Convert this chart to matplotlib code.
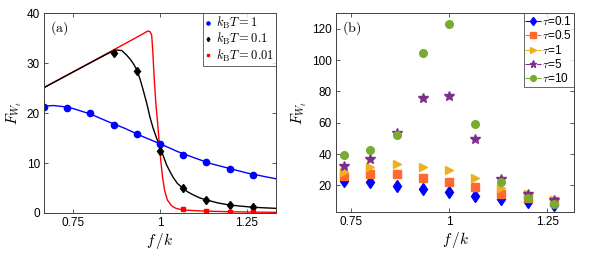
import numpy as np
import matplotlib
matplotlib.use('Agg')
import matplotlib.pyplot as plt
from matplotlib.lines import Line2D

plt.rcParams['font.family'] = ['Liberation Sans', 'DejaVu Sans']
plt.rcParams['mathtext.fontset'] = 'cm'

# ---- panel (a): simulated points and theory curves ----
fk_pts = [10/15, 11/15, 12/15, 13/15, 14/15, 1.0, 16/15, 17/15, 18/15, 19/15]
blue_pts = [21.2, 21.1, 20.0, 17.6, 15.9, 13.8, 11.7, 10.2, 8.9, 7.7]
fk_black = [13/15, 14/15, 1.0, 16/15, 17/15, 18/15, 19/15]
black_pts = [32.0, 28.5, 12.5, 5.0, 2.5, 1.6, 1.2]
fk_red = [16/15, 17/15, 18/15, 19/15]
red_pts = [0.7, 0.4, 0.25, 0.2]

blue_f = [0.667, 0.693, 0.72, 0.75, 0.8, 0.85, 0.9, 0.95, 1.0, 1.05, 1.1,
          1.15, 1.2, 1.25, 1.3, 1.333]
blue_v = [21.35, 21.5, 21.3, 20.9, 19.8, 18.3, 16.9, 15.3, 13.85, 12.3, 11.0,
          9.8, 8.9, 8.0, 7.3, 6.85]

black_f = [0.667, 0.75, 0.82, 0.85, 0.865, 0.876, 0.89, 0.904, 0.915, 0.923,
           0.933, 0.943, 0.952, 0.962, 0.971, 0.98, 0.99, 1.0, 1.01, 1.019,
           1.03, 1.038, 1.05, 1.067, 1.08, 1.096, 1.115, 1.134, 1.167, 1.2,
           1.235, 1.268, 1.3, 1.333]
black_v = [25.1, 28.2, 30.8, 31.9, 32.4, 32.6, 32.5, 31.6, 30.7, 29.9,
           28.7, 26.7, 24.5, 21.9, 19.2, 17.0, 15.0, 13.3, 11.3, 9.6,
           8.1, 7.1, 5.9, 4.9, 4.2, 3.6, 3.0, 2.6, 2.0, 1.6,
           1.35, 1.15, 1.03, 0.93]

red_f = [0.667, 0.80, 0.90, 0.95, 0.962, 0.968, 0.972, 0.976, 0.979, 0.983,
         0.988, 0.994, 0.998, 1.002, 1.007, 1.013, 1.021, 1.034, 1.045, 1.057,
         1.08, 1.12, 1.2, 1.27, 1.333]
red_v = [25.1, 30.1, 33.9, 35.8, 36.3, 36.4, 36.2, 35.6, 32.6, 27.3,
         21.9, 17.3, 13.9, 10.6, 7.3, 4.6, 2.6, 1.4, 0.95, 0.73,
         0.55, 0.4, 0.25, 0.17, 0.13]

# ---- panel (b) ----
fk_b = [11/15, 12/15, 13/15, 14/15, 1.0, 16/15, 17/15, 18/15, 19/15]
tau_labels = ['0.1', '0.5', '1', '5', '10']
tau01 = [22.8, 22.1, 19.6, 17.7, 16.0, 13.0, 11.3, 9.2, 7.2]
tau05 = [25.9, 27.4, 27.4, 24.5, 22.3, 18.7, 14.7, 12.2, 10.0]
tau1 = [28.5, 31.7, 33.4, 31.7, 29.6, 24.5, 18.5, 14.7, 10.9]
tau5 = [32.6, 37.0, 53.4, 75.9, 77.0, 49.8, 24.3, 14.7, 10.5]
tau10 = [39.1, 42.8, 51.9, 104.6, 122.7, 59.3, 22.3, 12.2, 8.3]

tick_fs = 8.5
frame_c = '0.25'


def style_axes(ax):
    ax.tick_params(direction='in', length=3, width=0.6, top=True, right=True,
                   labelsize=tick_fs, colors=frame_c, labelcolor='black', pad=3)
    for s in ax.spines.values():
        s.set_color(frame_c)
        s.set_linewidth(0.7)


fig = plt.figure(figsize=(5.98, 2.56), dpi=100)
ax1 = fig.add_axes([0.0736, 0.168, 0.388, 0.781])
ax2 = fig.add_axes([0.562, 0.172, 0.398, 0.777])

ax1.plot(blue_f, blue_v, color='blue', lw=1.0)
ax1.plot(red_f, red_v, color='red', lw=1.0)
ax1.plot(black_f, black_v, color='black', lw=1.0)
ax1.plot(fk_pts, blue_pts, 'o', color='blue', ms=4.5, label=r'$k_{\mathrm{B}}T = 1$')
ax1.plot(fk_black, black_pts, 'd', color='black', ms=4.3, label=r'$k_{\mathrm{B}}T = 0.1$')
ax1.plot(fk_red, red_pts, 's', color='red', ms=3.5, label=r'$k_{\mathrm{B}}T = 0.01$')
ax1.set_xlim(2/3, 4/3)
ax1.set_ylim(0, 40)
ax1.set_xticks([0.75, 1, 1.25])
ax1.set_xticklabels(['0.75', '1', '1.25'])
ax1.set_yticks([0, 10, 20, 30, 40])
style_axes(ax1)
ax1.set_xlabel(r'$f\,/k$', fontsize=11, labelpad=1)
ax1.set_ylabel(r'$F_{W_t}$', fontsize=11, labelpad=2)
ax1.text(0.025, 0.97, r'$\mathrm{(a)}$', transform=ax1.transAxes, fontsize=10,
         va='top', ha='left')
leg1 = ax1.legend(loc='upper right', fontsize=9, frameon=True, fancybox=False,
                  handlelength=0.6, handletextpad=0.3, borderpad=0.15,
                  labelspacing=0.02, borderaxespad=0, markerscale=0.5)
leg1.get_frame().set_edgecolor(frame_c)
leg1.get_frame().set_linewidth(0.7)

series = [tau01, tau05, tau1, tau5, tau10]
colors = ['#0000FF', '#FF6A2E', '#EDB120', '#7E2F8E', '#77AC30']
markers = ['d', 's', '>', '*', 'o']
sizes = [6, 5.5, 6, 7, 5.5]
for vals, c, m, s, lab in zip(series, colors, markers, sizes, tau_labels):
    ax2.plot(fk_b, vals, linestyle='none', marker=m, color=c, ms=s,
             label=r'$\tau$=' + lab)
ax2.set_xlim(0.7126, 1.318)
ax2.set_ylim(3, 130)
ax2.set_xticks([0.75, 1, 1.25])
ax2.set_xticklabels(['0.75', '1', '1.25'])
ax2.set_yticks([20, 40, 60, 80, 100, 120])
style_axes(ax2)
ax2.set_xlabel(r'$f\,/k$', fontsize=11, labelpad=1)
ax2.set_ylabel(r'$F_{W_t}$', fontsize=11, labelpad=2)
ax2.text(0.025, 0.97, r'$\mathrm{(b)}$', transform=ax2.transAxes, fontsize=10,
         va='top', ha='left')

# legend handles with dash-dot line like the original
handles = [Line2D([], [], color=c, marker=m, ms=s * 0.75, ls='-.', lw=0.8)
           for c, m, s in zip(colors, markers, sizes)]
leg2 = ax2.legend(handles, [r'$\tau$=' + t for t in tau_labels], loc='upper right',
                  fontsize=8.5, frameon=True, fancybox=False, handlelength=1.3,
                  handletextpad=0.15, borderpad=0.15, labelspacing=0.12,
                  borderaxespad=0)
leg2.get_frame().set_edgecolor(frame_c)
leg2.get_frame().set_linewidth(0.7)

fig.savefig('out.png', dpi=100)
